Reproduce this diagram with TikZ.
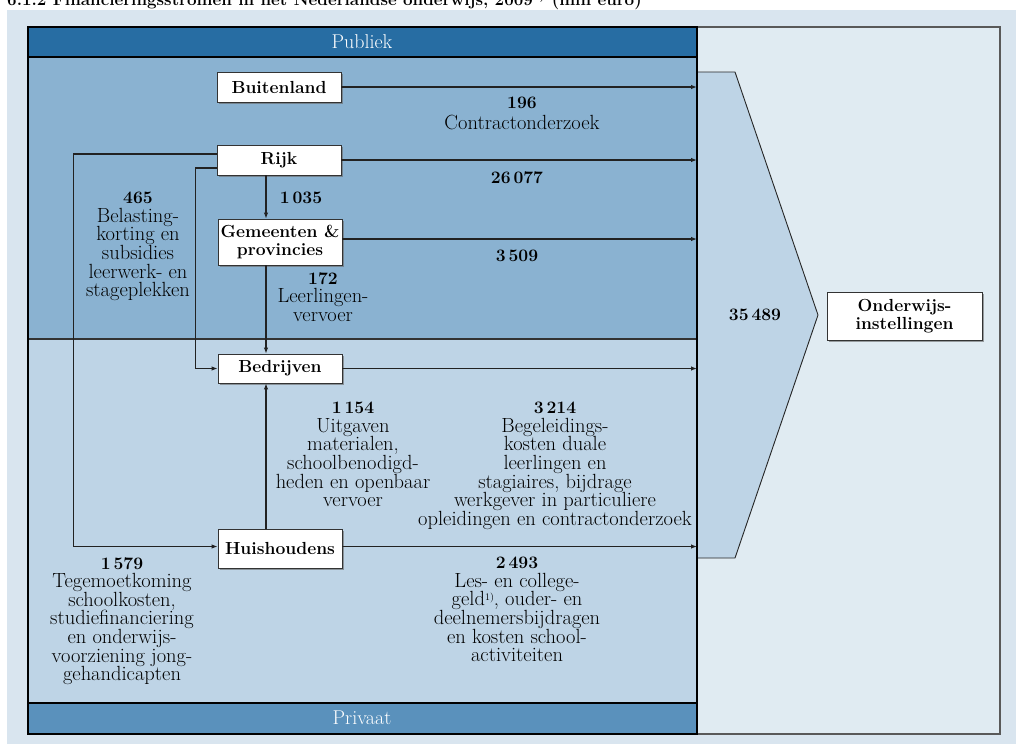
\documentclass[tikz,border=0pt]{standalone}
\usepackage{fontspec}
\usetikzlibrary{arrows.meta,calc,shadows}
\definecolor{bgout}{HTML}{D9E5EF}
\definecolor{pubhead}{HTML}{276DA3}
\definecolor{pubfill}{HTML}{8AB2D1}
\definecolor{privfill}{HTML}{BED4E6}
\definecolor{privhead}{HTML}{5A91BC}
\definecolor{rightfill}{HTML}{E0EBF2}
\definecolor{linecol}{HTML}{222222}
\newcommand\nb[1]{{\fontsize{17.5}{18.6}\selectfont\bfseries #1}}
\newcommand\fnm[1]{\raisebox{0.28em}{\fontsize{10}{10}\selectfont #1}}
\tikzset{
  box/.style={draw=black!80, fill=white, line width=0.9pt,
    font=\fontsize{17.5}{18}\selectfont\bfseries, inner xsep=1pt, inner ysep=0pt,
    minimum width=124pt, minimum height=30pt, align=center,
    drop shadow={shadow xshift=1.5pt, shadow yshift=-1.5pt, fill=black!60, opacity=0.6}},
  lbl/.style={font=\fontsize{20.5}{18.6}\selectfont, align=center, inner sep=0pt, anchor=north},
  num/.style={font=\fontsize{17.5}{18.6}\selectfont\bfseries, inner sep=0pt},
  conn/.style={draw=linecol, line width=1.1pt},
  arr/.style={conn, -{Latex[length=6pt,width=4.5pt]}},
  hdr/.style={text=white, font=\fontsize{20}{20}\selectfont, inner sep=0pt}
}
\begin{document}
\setlength{\lineskiplimit}{-30pt}
\begin{tikzpicture}[x=1pt,y=-1pt]
\useasboundingbox (0,0) rectangle (1016,744);
\clip (0,0) rectangle (1016,744);
% outer background
\fill[bgout] (7,10) rectangle (1016,744);
\node[anchor=base west, inner sep=0pt, font=\fontsize{17}{17}\selectfont\bfseries] (title) at (7,5.5)
  {6.1.2 Financieringsstromen in het Nederlandse onderwijs, 2009\textsuperscript{1)} (mln euro)};
% right panel
\draw[draw=black!65, fill=rightfill, line width=1.4pt] (697,27) rectangle (1000,734);
% big arrow
\fill[privfill] (697,72) -- (735,72) -- (818,315) -- (735,558) -- (697,558) -- cycle;
\draw[draw=black!85, line width=0.9pt] (697,72) -- (735,72) -- (818,315) -- (735,558) -- (697,558);
% left panel
\fill[pubhead] (28,27) rectangle (697,57);
\fill[pubfill] (28,57) rectangle (697,339);
\fill[privfill] (28,339) rectangle (697,703);
\fill[privhead] (28,703) rectangle (697,734);
\draw[black, line width=1.2pt] (28,57) -- (697,57);
\draw[black!80, line width=2pt] (28,339) -- (697,339);
\draw[black, line width=1.2pt] (28,703) -- (697,703);
\draw[black, line width=1.4pt] (28,27) rectangle (697,734);
\node[hdr] (pub) at (362,42) {Publiek};
\node[hdr] (priv) at (362,718) {Privaat};
% reference coordinates
\coordinate (rp) at (697,0);
\coordinate (col) at (266,0);
% boxes
\node[box] (buit) at (279,87) {Buitenland};
\node[box] (rijk) at (279,160) {Rijk};
\node[box, minimum height=46pt] (gem) at (280,242) {Gemeenten \&\\provincies};
\node[box, minimum height=29pt] (bedr) at (280,368.5) {Bedrijven};
\node[box, minimum height=39pt] (huis) at (280,548.5) {Huishoudens};
\node[box, minimum width=155pt, minimum height=48pt, drop shadow={shadow xshift=0pt, shadow yshift=0pt, opacity=0}] (ond) at (904.5,316) {Onderwijs-\\instellingen};
% connectors
\draw[arr] (buit.east) -- (buit.east -| rp);
\draw[arr] (rijk.east) -- (rijk.east -| rp);
\draw[arr] ($(gem.east)+(0,-3)$) -- ($(gem.east -| rp)+(0,-3)$);
\draw[arr] (bedr.east) -- (bedr.east -| rp);
\draw[arr] ($(huis.east)+(0,-2)$) -- ($(huis.east -| rp)+(0,-2)$);
\draw[arr] (rijk.south -| col) -- (gem.north -| col);
\draw[arr] (gem.south -| col) -- (bedr.north -| col);
\draw[arr] (huis.north -| col) -- (bedr.south -| col);
\draw[arr] ($(rijk.west)+(0,-6)$) -| ($(huis.west)+(-144,-2)$) -- ($(huis.west)+(0,-2)$);
\draw[arr] ($(rijk.west)+(0,8)$) -| ($(bedr.west)+(-22,0)$) -- (bedr.west);
% labels
\node[lbl] (l196) at (522,97) {\nb{196}\\[2pt]Contractonderzoek};
\node[num] (l26077) at (517,178) {26\,077};
\node[num] (l3509) at (517,256) {3\,509};
\node[num] (l1035) at (301,198) {1\,035};
\node[lbl] (l465) at (138,192) {\nb{465}\\Belasting-\\korting en\\subsidies\\leerwerk- en\\stageplekken};
\node[lbl] (l172) at (323,272) {\nb{172}\\Leerlingen-\\vervoer};
\node[lbl] (l1154) at (353,402) {\nb{1\,154}\\Uitgaven\\materialen,\\schoolbenodigd-\\heden en openbaar\\vervoer};
\node[lbl] (l3214) at (555,402) {\nb{3\,214}\\Begeleidings-\\kosten duale\\leerlingen en\\stagiaires, bijdrage\\werkgever in particuliere\\opleidingen en contractonderzoek};
\node[lbl] (l2493) at (517,557) {\nb{2\,493}\\Les- en college-\\geld\fnm{1)}, ouder- en\\deelnemersbijdragen\\en kosten school-\\activiteiten};
\node[lbl] (l1579) at (122,557) {\nb{1\,579}\\Tegemoetkoming\\schoolkosten,\\studiefinanciering\\en onderwijs-\\voorziening jong-\\gehandicapten};
\node[num] (l35489) at (755,315) {35\,489};
\end{tikzpicture}
\end{document}
